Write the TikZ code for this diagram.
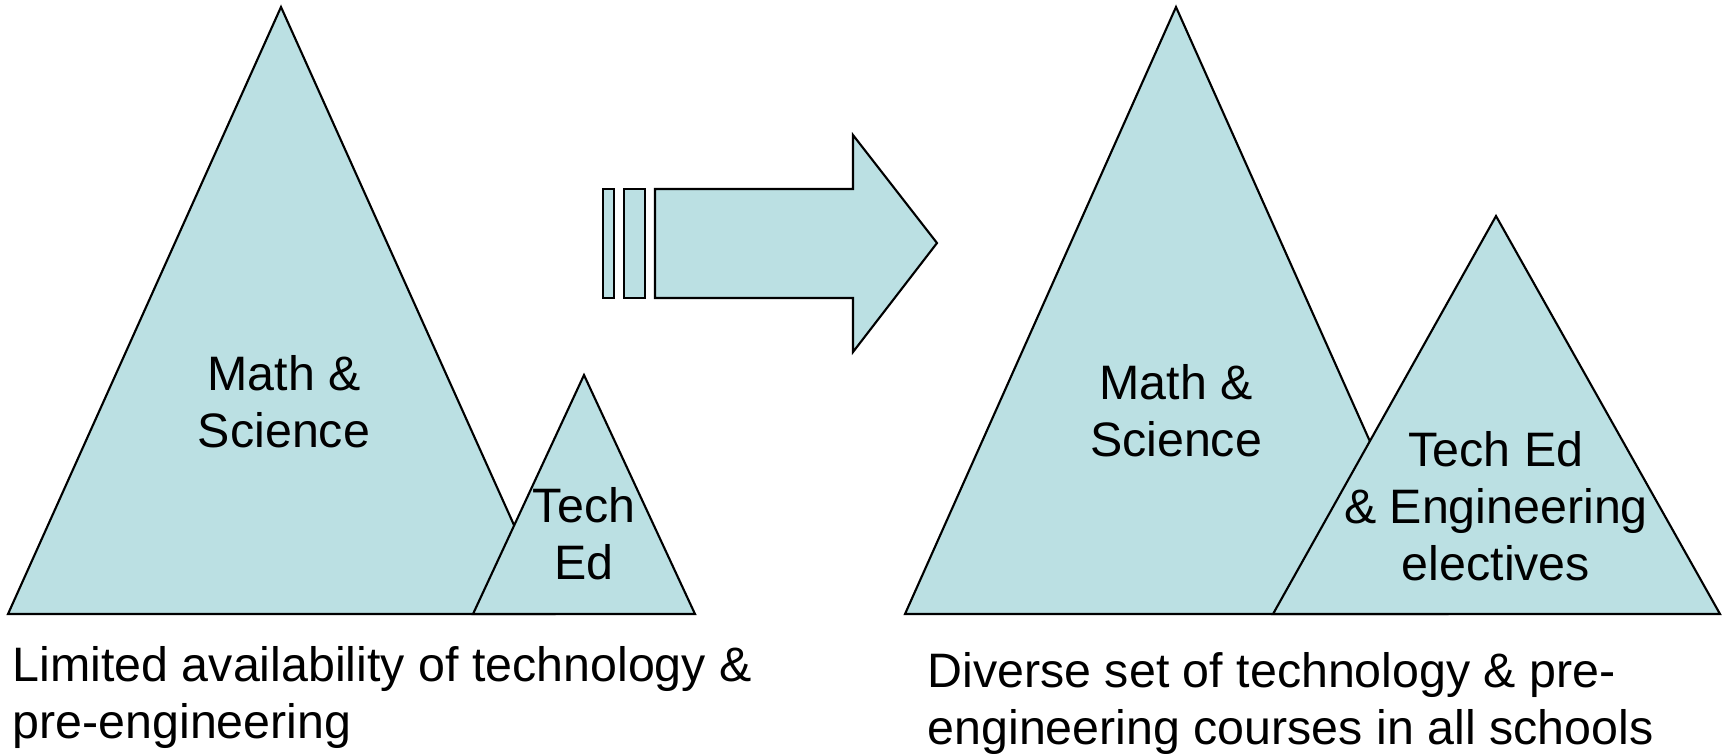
\documentclass[tikz,border=0pt]{standalone}
\usepackage{fontspec}
\setmainfont{Liberation Sans}
\definecolor{peak}{RGB}{187,224,227}
\begin{document}
\begin{tikzpicture}[x=0.01cm,y=-0.01cm,
  mount/.style={draw=black,fill=peak,line width=0.6pt,line join=miter},
  lbl/.style={inner sep=0pt,align=center,anchor=north,font=\fontsize{13.75pt}{16.2pt}\selectfont},
  note/.style={inner sep=0pt,align=left,anchor=north west,font=\fontsize{13.75pt}{16.1pt}\selectfont}]
\useasboundingbox (0,0) rectangle (1724,753);
\filldraw[mount] (8,614) -- (281,7) -- (554,614) -- cycle;
\filldraw[mount] (473,614) -- (584,375) -- (695,614) -- cycle;
\filldraw[mount] (603,189) rectangle (614,298);
\filldraw[mount] (624,189) rectangle (645,298);
\filldraw[mount] (655,189) -- (853,189) -- (853,135) -- (937,243) -- (853,352) -- (853,298) -- (655,298) -- cycle;
\filldraw[mount] (905,614) -- (1176,7) -- (1447,614) -- cycle;
\filldraw[mount] (1273,614) -- (1496,216) -- (1720,614) -- cycle;
\node[lbl] (mathL) at (284,355) {Math \&\\Science};
\node[lbl] (techL) at (584,487) {Tech\\Ed};
\node[lbl] (mathR) at (1176,364) {Math \&\\Science};
\node[lbl] (techR) at (1496,431) {Tech Ed\\\& Engineering\\electives};
\node[note] (before) at (12,646) {Limited availability of technology \&\\pre-engineering};
\node[note] (after) at (927,652) {Diverse set of technology \& pre-\\engineering courses in all schools};
\end{tikzpicture}
\end{document}
